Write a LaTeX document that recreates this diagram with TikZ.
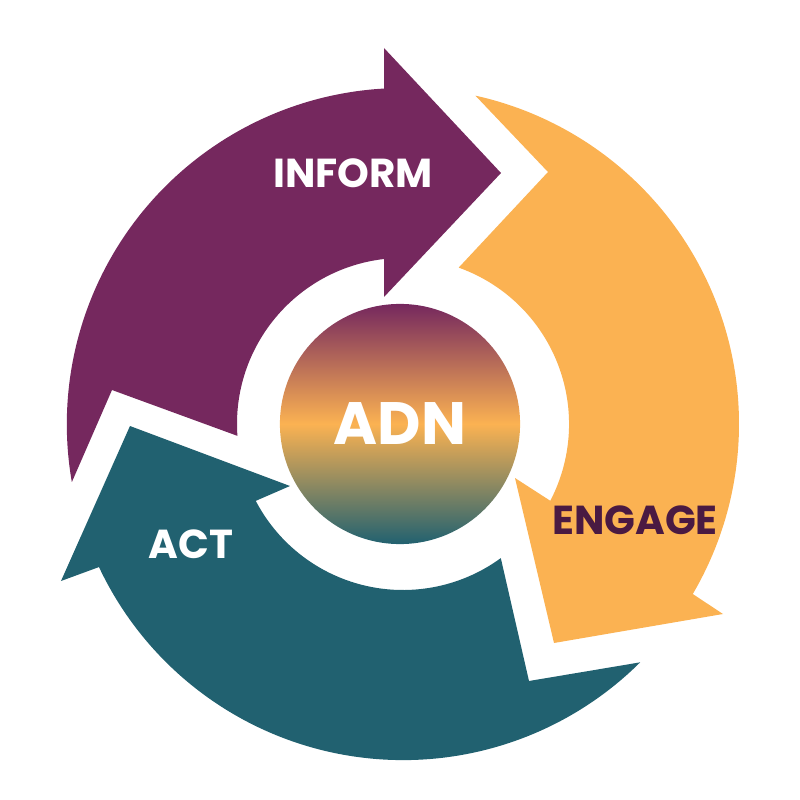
\documentclass[tikz,border=0pt]{standalone}
\usepackage{fontspec}
\setmainfont{Poppins}
\usepackage{tikz}
\definecolor{Plum}{HTML}{75285E}
\definecolor{Mango}{HTML}{FBB252}
\definecolor{Lagoon}{HTML}{216170}
\definecolor{PlumDark}{HTML}{4A1A42}

\begin{document}
\begin{tikzpicture}[
    x=0.01cm, y=0.01cm,
    lbl/.style={font=\fontsize{11.5}{13}\selectfont\bfseries, text=white, inner sep=0pt},
    core/.style={circle, minimum size=2.4cm, inner sep=0pt,
      top color=Plum, bottom color=Lagoon, middle color=Mango,
      font=\fontsize{17}{20}\selectfont\bfseries, text=white}
  ]
    \useasboundingbox (-403,-376) rectangle (397,424);
    % inform arrow
    \fill[Plum] (189.9:336) -- (-291,34) -- (184.1:166)
      arc[start angle=184.1, end angle=96.6, radius=1.66cm]
      -- (-19,127) -- (98,251) -- (-19,376) -- (93.2:336)
      arc[start angle=93.2, end angle=189.9, radius=3.36cm] -- cycle;
    % engage arrow
    \fill[Mango] (77.5:336) -- (145,252) -- (70.4:166)
      arc[start angle=70.4, end angle=-27.5, radius=1.66cm]
      -- (112,-54) -- (151,-219) -- (320,-190) -- (-30.4:336)
      arc[start angle=-30.4, end angle=77.5, radius=3.36cm] -- cycle;
    % act arrow
    \fill[Lagoon] (-45.2:336) -- (126,-257) -- (-53.9:166)
      arc[start angle=-53.9, end angle=-152.4, radius=1.66cm]
      -- (-113,-62) -- (-273,-2) -- (-342,-157) -- (-154.8:336)
      arc[start angle=-154.8, end angle=-45.2, radius=3.36cm] -- cycle;

    \node[core] (adn) at (-3,0) {ADN};
    \node[lbl] (inform) at (-50,251) {INFORM};
    \node[lbl, text=PlumDark] (engage) at (232,-96) {ENGAGE};
    \node[lbl] (act) at (-212,-120) {ACT};
\end{tikzpicture}
\end{document}
